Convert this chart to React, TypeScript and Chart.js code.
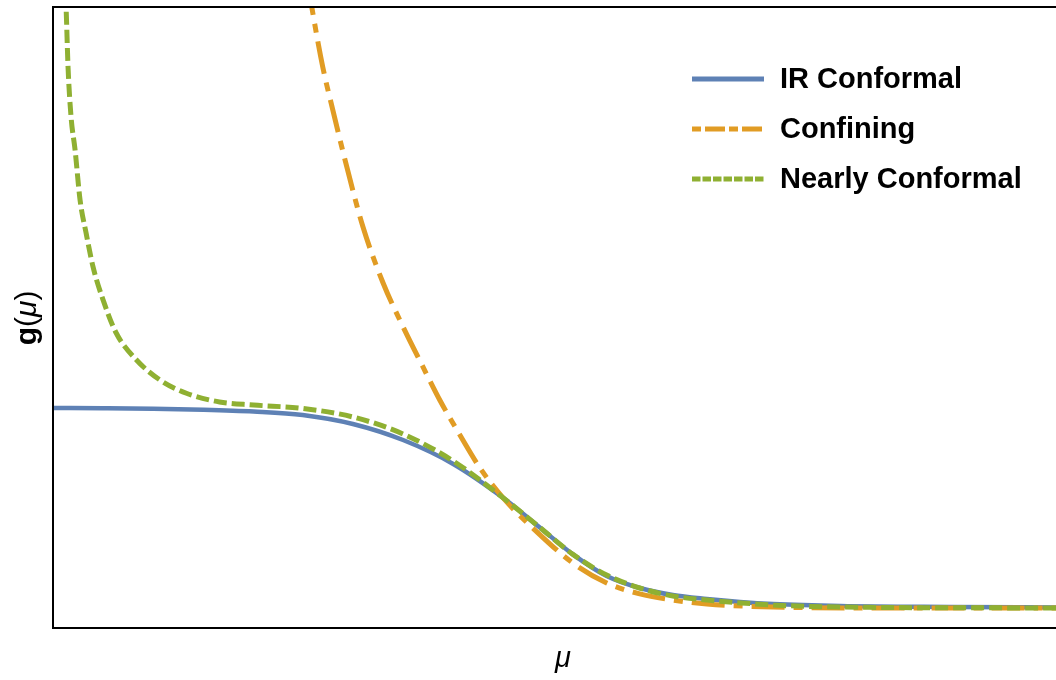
import React, { useEffect, useRef } from "react";
import { Chart, registerables } from "chart.js";

Chart.register(...registerables);

// mu (x) and g(mu) values
const irX = [0, 0.5, 1.0, 1.5, 2.0, 2.49, 2.99, 3.49, 3.99, 4.49, 4.86, 5.18, 5.52, 5.85, 6.18, 6.52, 6.85, 7.18, 7.85, 8.94, 10];
const irY = [0.3543, 0.3538, 0.353, 0.3515, 0.3486, 0.343, 0.3285, 0.3027, 0.2641, 0.2093, 0.161, 0.119, 0.0837, 0.0644, 0.0531, 0.0467, 0.0419, 0.0386, 0.0354, 0.0338, 0.0330];

const confX = [2.54, 2.58, 2.69, 2.79, 2.93, 3.09, 3.29, 3.49, 3.69, 3.86, 4.06, 4.26, 4.49, 4.79, 5.18, 5.52, 5.85, 6.18, 6.52, 7.18, 8.44, 10];
const confY = [1.04, 1.0, 0.903, 0.834, 0.742, 0.646, 0.556, 0.485, 0.42, 0.366, 0.31, 0.257, 0.209, 0.16, 0.105, 0.0725, 0.055, 0.0451, 0.0386, 0.0338, 0.0322, 0.0322];

const ncX = [0.11, 0.13, 0.15, 0.18, 0.22, 0.27, 0.33, 0.4, 0.5, 0.63, 0.83, 1.07, 1.33, 1.66, 2.0, 2.49, 2.99, 3.49, 3.99, 4.49, 4.86, 5.18, 5.52, 5.85, 6.18, 6.52, 7.18, 7.85, 10];
const ncY = [1.05, 1.0, 0.903, 0.823, 0.77, 0.689, 0.636, 0.581, 0.528, 0.475, 0.432, 0.399, 0.378, 0.364, 0.3591, 0.3535, 0.3398, 0.3124, 0.2689, 0.2093, 0.161, 0.119, 0.0853, 0.0644, 0.0515, 0.0451, 0.0370, 0.0338, 0.0322];

const seriesNames = ["IR Conformal", "Confining", "Nearly Conformal"];
const seriesColors = ["#5E81B5", "#E19C24", "#8FB032"];

const toPoints = (xs: number[], ys: number[]) => xs.map((x, i) => ({ x, y: ys[i] }));

const framePlugin = {
  id: "frameAndLabels",
  afterDraw(chart: any) {
    const { ctx, chartArea } = chart;
    const { left, top, right, bottom } = chartArea;
    ctx.save();
    // frame
    ctx.strokeStyle = "#000";
    ctx.lineWidth = 2;
    ctx.setLineDash([]);
    ctx.beginPath();
    ctx.moveTo(right + 2, top);
    ctx.lineTo(left, top);
    ctx.lineTo(left, bottom);
    ctx.lineTo(right + 2, bottom);
    ctx.stroke();

    // legend
    const legendDash = [[], [9, 4, 20, 4], [8.5, 2]];
    const rowsY = [79, 129, 179];
    for (let i = 0; i < 3; i++) {
      ctx.strokeStyle = seriesColors[i];
      ctx.lineWidth = 5;
      ctx.lineCap = "butt";
      ctx.setLineDash(legendDash[i]);
      ctx.beginPath();
      ctx.moveTo(692, rowsY[i]);
      ctx.lineTo(764, rowsY[i]);
      ctx.stroke();
      ctx.setLineDash([]);
      ctx.fillStyle = "#000";
      ctx.font = "bold 29px 'Liberation Sans', Arial, sans-serif";
      ctx.textBaseline = "middle";
      ctx.textAlign = "left";
      ctx.fillText(seriesNames[i], 780, rowsY[i] + 1);
    }

    // x label
    ctx.fillStyle = "#000";
    ctx.font = "italic 29px 'Liberation Sans', Arial, sans-serif";
    ctx.textAlign = "center";
    ctx.textBaseline = "middle";
    ctx.fillText("\u03bc", 563, 659);

    // y label g(μ)
    ctx.save();
    ctx.translate(28, 318);
    ctx.rotate(-Math.PI / 2);
    const parts = [
      { t: "g", f: "bold 30px 'Liberation Sans', Arial, sans-serif" },
      { t: "(", f: "30px 'Liberation Sans', Arial, sans-serif" },
      { t: "\u03bc", f: "italic 30px 'Liberation Sans', Arial, sans-serif" },
      { t: ")", f: "30px 'Liberation Sans', Arial, sans-serif" },
    ];
    let total = 0;
    for (const p of parts) {
      ctx.font = p.f;
      total += ctx.measureText(p.t).width;
    }
    let x = -total / 2;
    ctx.textAlign = "left";
    for (const p of parts) {
      ctx.font = p.f;
      ctx.fillText(p.t, x, 0);
      x += ctx.measureText(p.t).width;
    }
    ctx.restore();
    ctx.restore();
  },
};

export default function App() {
  const ref = useRef<HTMLCanvasElement | null>(null);
  useEffect(() => {
    if (!ref.current) return;
    const chart = new Chart(ref.current, {
      type: "line",
      data: {
        datasets: [
          {
            label: seriesNames[0],
            data: toPoints(irX, irY),
            borderColor: seriesColors[0],
            borderWidth: 4.5,
            pointRadius: 0,
            cubicInterpolationMode: "monotone",
            fill: false,
            order: 3,
          },
          {
            label: seriesNames[1],
            data: toPoints(confX, confY),
            borderColor: seriesColors[1],
            borderWidth: 5,
            borderDash: [33, 9, 9, 9],
            pointRadius: 0,
            cubicInterpolationMode: "monotone",
            fill: false,
            order: 2,
          },
          {
            label: seriesNames[2],
            data: toPoints(ncX, ncY),
            borderColor: seriesColors[2],
            borderWidth: 5,
            borderDash: [13, 5],
            pointRadius: 0,
            cubicInterpolationMode: "monotone",
            fill: false,
            order: 1,
          },
        ],
      },
      options: {
        animation: false,
        responsive: false,
        maintainAspectRatio: false,
        layout: { padding: { left: 53, top: 7, right: 0, bottom: 52 } },
        plugins: { legend: { display: false }, tooltip: { enabled: false } },
        scales: {
          x: { type: "linear", min: 0, max: 10, display: false },
          y: { type: "linear", min: 0, max: 1, display: false },
        },
      },
      plugins: [framePlugin],
    });
    return () => chart.destroy();
  }, []);
  return (
    <div style={{ position: "fixed", left: 0, top: 0, width: 1056, height: 680, background: "#fff" }}>
      <canvas ref={ref} width={1056} height={680} style={{ display: "block" }} />
    </div>
  );
}
